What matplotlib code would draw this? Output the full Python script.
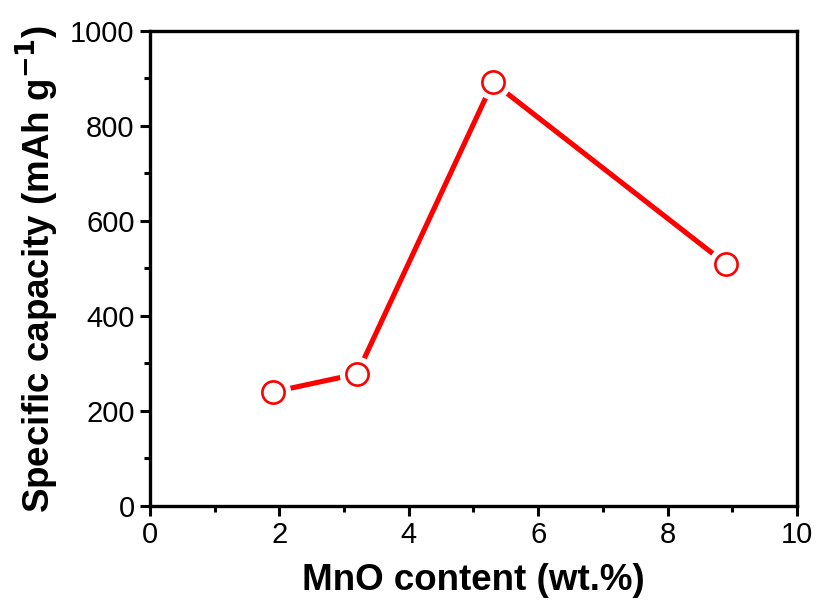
import matplotlib
matplotlib.use("Agg")
import matplotlib.pyplot as plt
from matplotlib.ticker import MultipleLocator

mno_content = [1.9, 3.2, 5.3, 8.9]
capacity = [240, 278, 892, 510]

x_ticks = [0, 2, 4, 6, 8, 10]
y_ticks = [0, 200, 400, 600, 800, 1000]

plt.rcParams['font.family'] = ['Liberation Sans', 'DejaVu Sans']

fig = plt.figure(figsize=(8.17, 6.03), dpi=100)
ax = fig.add_axes([0.1836, 0.1609, 0.7919, 0.7877])

red = '#ff0000'
ax.plot(mno_content, capacity, color=red, lw=3.7, solid_capstyle='butt', zorder=2)
# white halo keeps a small gap between the line and each marker
ax.plot(mno_content, capacity, ls='none', marker='o', ms=25.5, mfc='white',
        mec='white', mew=0, zorder=3)
ax.plot(mno_content, capacity, ls='none', marker='o', ms=16, mfc='white',
        mec=red, mew=1.9, zorder=4)

ax.set_xlim(0, 10)
ax.set_ylim(0, 1000)
ax.set_xticks(x_ticks)
ax.set_yticks(y_ticks)
ax.xaxis.set_minor_locator(MultipleLocator(1))
ax.yaxis.set_minor_locator(MultipleLocator(100))

for s in ax.spines.values():
    s.set_linewidth(2.4)
ax.tick_params(which='both', direction='out', width=2.2, labelsize=21,
               top=False, right=False, pad=4)
ax.tick_params(which='major', length=7)
ax.tick_params(which='minor', length=4)

ax.set_xlabel('MnO content (wt.%)', fontsize=26.5, fontweight='bold', labelpad=10)
ax.set_ylabel('Specific capacity (mAh g$^{\\mathbf{-1}}$)', fontsize=26.5,
              fontweight='bold', labelpad=7)

fig.savefig('out.png', dpi=100)
